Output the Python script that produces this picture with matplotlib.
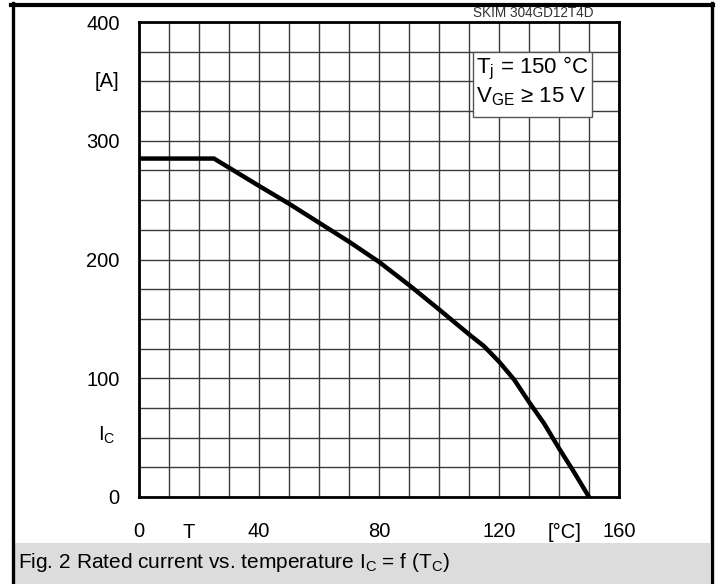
import numpy as np
import matplotlib
matplotlib.use("Agg")
from matplotlib import pyplot as plt
from matplotlib.patches import Rectangle

plt.rcParams['font.family'] = ['Liberation Sans', 'DejaVu Sans']
plt.rcParams['mathtext.fontset'] = 'custom'
plt.rcParams['mathtext.rm'] = 'Liberation Sans'
plt.rcParams['mathtext.it'] = 'Liberation Sans'

# case temperature [°C] vs rated current [A]
t_case = [0, 25, 40, 50, 60, 70, 80, 90, 100, 110, 115, 120, 125, 130, 135, 140, 145, 150]
i_c = [285, 285, 262, 247, 231, 215, 198, 178.5, 158, 137, 127, 114, 99, 80, 62, 41, 21, 0]

x_labels = [0, 40, 80, 120, 160]
y_labels = [0, 100, 200, 300, 400]
x_grid = list(range(0, 161, 10))
y_grid = list(range(0, 401, 25))

W, H = 717, 584
fig = plt.figure(figsize=(W / 100, H / 100), dpi=100)

# outer frame and caption band
fig.patches.append(Rectangle((14 / W, 0), 696 / W, (584 - 543) / H,
                             transform=fig.transFigure, facecolor='#dcdcdc',
                             edgecolor='none', zorder=0))
fig.lines.append(plt.Line2D([12.5 / W, 12.5 / W], [0, 1 - 3 / H], transform=fig.transFigure,
                            color='black', lw=2.4))
fig.lines.append(plt.Line2D([711.5 / W, 711.5 / W], [0, 1 - 3 / H], transform=fig.transFigure,
                            color='black', lw=2.4))
fig.lines.append(plt.Line2D([11 / W, 713 / W], [1 - 4.5 / H, 1 - 4.5 / H], transform=fig.transFigure,
                            color='black', lw=3))

ax = fig.add_axes([139 / W, (584 - 497) / H, 480 / W, 475 / H])
ax.set_xlim(0, 160)
ax.set_ylim(0, 400)
ax.set_xticks(x_labels)
ax.set_yticks(y_labels)
ax.set_xticks(x_grid, minor=True)
ax.set_yticks(y_grid, minor=True)
ax.grid(True, which='both', color='#3a3a3a', lw=1.0)
ax.set_axisbelow(True)
ax.tick_params(which='both', length=0)
ax.tick_params(axis='x', pad=18, labelsize=14.5)
ax.tick_params(axis='y', pad=14, labelsize=14.5)
for s in ax.spines.values():
    s.set_linewidth(2)

ax.plot(t_case, i_c, color='black', lw=3.2, solid_joinstyle='miter', zorder=3)

# axis annotations
ax.text(-0.042, 350, '[A]', transform=ax.get_yaxis_transform(), ha='right', va='center', fontsize=14.5)
ax.text(-0.05, 52, r'I$_\mathrm{C}$', transform=ax.get_yaxis_transform(), ha='right', va='center', fontsize=14.5)
ax.text(16.5, -0.074, 'T', transform=ax.get_xaxis_transform(), ha='center', va='center', fontsize=14.5)
ax.text(142, -0.075, '[°C]', transform=ax.get_xaxis_transform(), ha='center', va='center', fontsize=14.5)

# condition box
ax.add_patch(Rectangle((0.696, 0.80), 0.248, 0.137, transform=ax.transAxes,
                       facecolor='white', edgecolor='#555555', lw=1.0, zorder=4))
ax.text(0.702, 0.902, r'T$_\mathrm{j}$ = 150 °C', transform=ax.transAxes, ha='left', va='center',
        fontsize=16, zorder=5)
ax.text(0.702, 0.843, r'V$_\mathrm{GE}$ ≥ 15 V', transform=ax.transAxes, ha='left', va='center',
        fontsize=16, zorder=5)

fig.text(533 / W, 1 - 13 / H, 'SKIM 304GD12T4D', ha='center', va='center', fontsize=9.8, color='#333333')

fig.text(18 / W, 1 - 563 / H, r'Fig. 2 Rated current vs. temperature I$_\mathrm{C}$ = f (T$_\mathrm{C}$)',
         ha='left', va='center', fontsize=15)

fig.savefig('out.png', dpi=100)
